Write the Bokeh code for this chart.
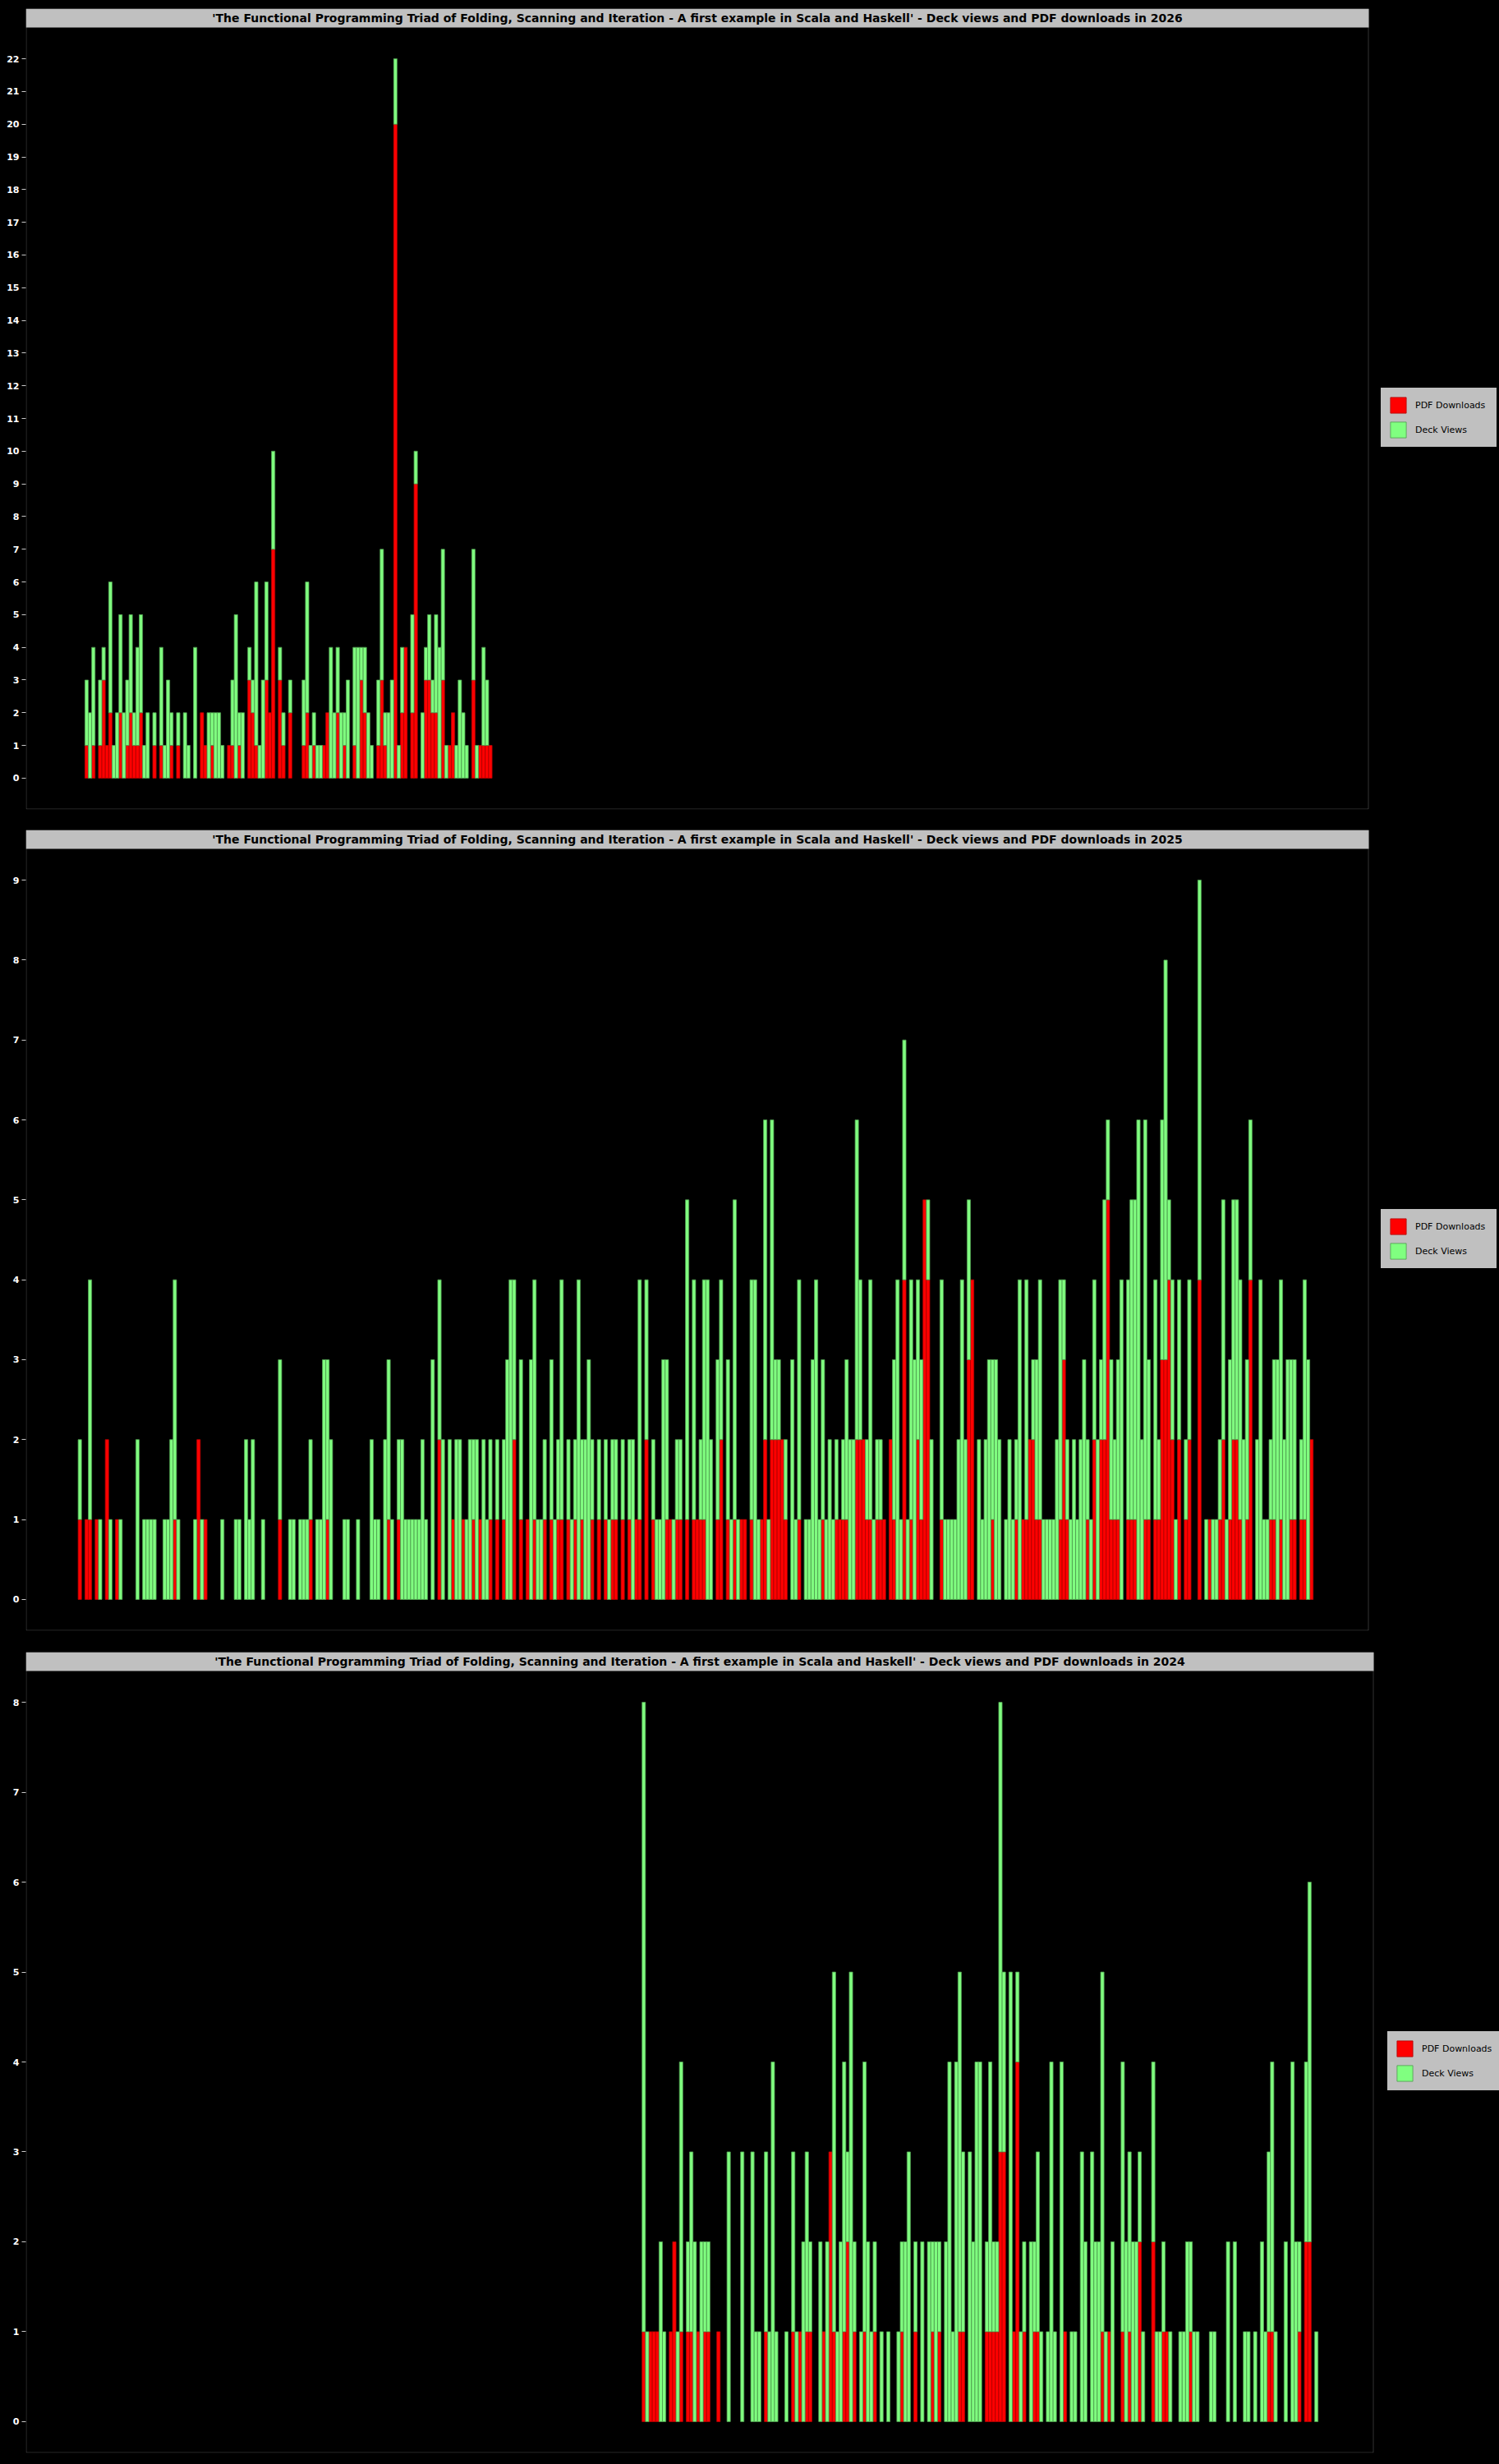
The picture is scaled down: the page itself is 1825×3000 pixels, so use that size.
from bokeh.plotting import figure
from bokeh.models import (Range1d, FixedTicker, ColumnDataSource, Legend,
                          LegendItem, BoxAnnotation, Label)
from bokeh.layouts import column
from bokeh.embed import file_html
from bokeh.resources import INLINE

TITLE = ("'The Functional Programming Triad of Folding, Scanning and Iteration - "
         "A first example in Scala and Haskell' - Deck views and PDF downloads in {}")
series_labels = ["PDF Downloads", "Deck Views"]

# ---------------- 2026 (day-of-year of first value, then one value per day)
start_2026 = 2
downloads_2026 = [
    1, 0, 1, 0, 1, 3, 1, 2, 0, 0, 2, 0, 1, 2, 1, 1, 2, 0, 0, 0,
    1, 0, 1, 0, 0, 1, 0, 1, 0, 0, 0, 0, 0, 0, 2, 1, 0, 1, 0, 0,
    0, 0, 1, 1, 0, 1, 0, 0, 3, 2, 1, 0, 0, 3, 2, 7, 0, 3, 1, 0,
    2, 0, 0, 0, 1, 2, 0, 1, 0, 0, 1, 2, 0, 0, 2, 0, 1, 0, 0, 1,
    0, 3, 2, 0, 0, 0, 1, 3, 1, 0, 0, 20, 0, 2, 4, 0, 2, 9, 0, 0,
    3, 3, 2, 2, 0, 3, 0, 1, 2, 0, 0, 0, 0, 0, 3, 0, 1, 1, 1, 1]
views_2026 = [
    2, 2, 3, 0, 2, 1, 0, 4, 1, 2, 3, 2, 2, 3, 1, 3, 3, 1, 2, 0,
    1, 0, 3, 1, 3, 1, 0, 1, 0, 2, 1, 0, 4, 0, 0, 0, 2, 1, 2, 2,
    1, 0, 0, 2, 5, 1, 2, 0, 1, 1, 5, 1, 3, 3, 0, 3, 0, 1, 1, 0,
    1, 0, 0, 0, 2, 4, 1, 1, 1, 1, 0, 0, 4, 2, 2, 2, 1, 3, 0, 3,
    4, 1, 2, 2, 1, 0, 2, 4, 1, 2, 3, 2, 1, 2, 0, 0, 3, 1, 0, 2,
    1, 2, 1, 3, 4, 4, 1, 0, 0, 1, 3, 2, 1, 0, 4, 1, 0, 3, 2, 0]

# ---------------- 2025
start_2025 = 0
downloads_2025 = [
    1, 0, 1, 1, 0, 1, 0, 0, 2, 0, 0, 1, 0, 0, 0, 0, 0, 0, 0, 0,
    0, 0, 0, 0, 0, 0, 0, 0, 1, 0, 0, 0, 0, 0, 0, 2, 0, 1, 0, 0,
    0, 0, 0, 0, 0, 0, 0, 0, 0, 0, 0, 0, 0, 0, 0, 0, 0, 0, 0, 1,
    0, 0, 0, 0, 0, 0, 0, 0, 1, 0, 0, 0, 0, 1, 0, 0, 0, 0, 0, 0,
    0, 0, 0, 0, 0, 0, 0, 0, 0, 0, 0, 1, 0, 0, 1, 0, 0, 0, 0, 0,
    0, 0, 0, 0, 0, 0, 2, 0, 0, 0, 1, 0, 0, 1, 0, 0, 1, 0, 1, 0,
    0, 1, 0, 1, 0, 1, 0, 0, 2, 0, 1, 0, 1, 0, 1, 0, 0, 1, 0, 1,
    0, 1, 1, 0, 1, 0, 1, 0, 1, 0, 0, 1, 0, 1, 0, 1, 0, 1, 1, 0,
    1, 0, 1, 0, 1, 1, 0, 2, 0, 1, 0, 0, 0, 1, 1, 0, 1, 1, 0, 1,
    0, 1, 1, 1, 1, 0, 0, 0, 1, 2, 0, 1, 0, 1, 0, 1, 1, 0, 1, 0,
    0, 1, 2, 0, 2, 2, 2, 2, 1, 0, 0, 0, 1, 0, 0, 0, 0, 0, 0, 1,
    0, 0, 0, 1, 1, 1, 1, 0, 0, 2, 2, 2, 1, 1, 0, 1, 1, 1, 0, 2,
    1, 0, 0, 4, 0, 1, 0, 2, 1, 5, 4, 0, 0, 0, 1, 0, 0, 0, 0, 0,
    0, 0, 3, 4, 0, 0, 0, 0, 0, 1, 0, 0, 0, 0, 0, 0, 1, 0, 1, 1,
    2, 2, 1, 1, 0, 0, 0, 0, 0, 1, 3, 1, 0, 0, 0, 0, 0, 1, 0, 2,
    0, 2, 2, 5, 1, 1, 1, 0, 0, 1, 1, 1, 0, 0, 1, 1, 0, 1, 1, 3,
    3, 4, 2, 0, 2, 0, 1, 2, 0, 0, 4, 0, 0, 1, 0, 0, 1, 2, 0, 1,
    2, 2, 1, 0, 1, 4, 0, 0, 0, 0, 0, 1, 1, 0, 1, 0, 0, 1, 1, 0,
    1, 1, 0, 2, 0]
views_2025 = [
    1, 0, 0, 3, 0, 0, 1, 0, 0, 1, 0, 0, 1, 0, 0, 0, 0, 2, 0, 1,
    1, 1, 1, 0, 0, 1, 1, 2, 3, 1, 0, 0, 0, 0, 1, 0, 1, 0, 0, 0,
    0, 0, 1, 0, 0, 0, 1, 1, 0, 2, 1, 2, 0, 0, 1, 0, 0, 0, 0, 2,
    0, 0, 1, 1, 0, 1, 1, 1, 1, 0, 1, 1, 3, 2, 2, 0, 0, 0, 1, 1,
    0, 0, 1, 0, 0, 0, 2, 1, 1, 0, 2, 2, 1, 0, 1, 2, 1, 1, 1, 1,
    1, 2, 1, 0, 3, 0, 2, 2, 0, 2, 0, 2, 2, 0, 1, 2, 1, 2, 0, 2,
    1, 1, 0, 1, 0, 1, 3, 4, 2, 0, 2, 0, 0, 3, 3, 1, 1, 1, 0, 2,
    1, 1, 3, 0, 1, 1, 1, 4, 1, 2, 3, 1, 0, 1, 0, 1, 1, 1, 1, 0,
    1, 0, 1, 2, 0, 3, 0, 2, 0, 1, 1, 1, 3, 2, 0, 1, 1, 1, 0, 4,
    0, 3, 0, 1, 3, 4, 2, 0, 2, 2, 0, 2, 1, 4, 1, 0, 0, 0, 3, 4,
    1, 0, 4, 1, 4, 1, 1, 0, 1, 0, 3, 1, 3, 0, 1, 1, 3, 4, 1, 2,
    1, 2, 1, 1, 0, 1, 2, 2, 2, 4, 2, 0, 1, 3, 1, 1, 1, 0, 0, 0,
    2, 4, 1, 3, 1, 3, 3, 2, 2, 0, 1, 2, 0, 0, 3, 1, 1, 1, 1, 2,
    4, 2, 2, 0, 0, 2, 1, 2, 3, 2, 3, 2, 0, 1, 2, 1, 1, 4, 0, 3,
    0, 1, 2, 3, 1, 1, 1, 1, 2, 3, 1, 1, 1, 2, 1, 2, 3, 1, 1, 2,
    2, 1, 3, 1, 2, 1, 2, 4, 0, 3, 4, 4, 6, 2, 5, 2, 0, 3, 1, 3,
    5, 1, 2, 1, 2, 0, 1, 2, 0, 0, 5, 0, 1, 0, 1, 1, 1, 3, 1, 2,
    3, 3, 3, 2, 2, 2, 0, 2, 4, 1, 1, 1, 2, 3, 3, 2, 3, 2, 2, 0,
    1, 3, 3, 0, 0]

# ---------------- 2024
start_2024 = 166
downloads_2024 = [
    1, 0, 1, 1, 1, 0, 0, 0, 1, 2, 0, 1, 0, 1, 1, 0, 1, 0, 1, 1,
    0, 0, 1, 0, 0, 0, 0, 0, 0, 0, 0, 0, 0, 0, 0, 0, 1, 0, 0, 0,
    0, 0, 0, 0, 1, 0, 1, 0, 1, 1, 0, 0, 0, 1, 0, 3, 1, 0, 0, 1,
    2, 0, 1, 0, 0, 1, 0, 0, 1, 0, 0, 0, 0, 0, 0, 0, 1, 0, 0, 0,
    1, 0, 0, 0, 0, 1, 0, 1, 0, 0, 0, 0, 0, 1, 1, 0, 0, 0, 0, 0,
    0, 1, 1, 1, 1, 3, 3, 0, 0, 1, 4, 0, 1, 0, 0, 1, 1, 0, 0, 0,
    0, 0, 0, 0, 1, 0, 0, 0, 0, 0, 0, 0, 0, 0, 0, 1, 0, 1, 0, 0,
    0, 1, 0, 1, 0, 0, 2, 0, 0, 0, 2, 0, 0, 1, 1, 0, 0, 0, 0, 0,
    0, 1, 0, 0, 0, 0, 0, 0, 0, 0, 0, 0, 0, 0, 0, 0, 0, 0, 0, 0,
    0, 0, 0, 0, 1, 1, 0, 0, 0, 0, 0, 0, 0, 1, 0, 2, 2, 0, 0]
views_2024 = [
    7, 1, 0, 0, 0, 2, 1, 0, 0, 0, 1, 3, 0, 1, 2, 2, 0, 2, 1, 1,
    0, 0, 0, 0, 0, 3, 0, 0, 0, 3, 0, 0, 3, 1, 1, 0, 2, 1, 4, 1,
    0, 0, 1, 0, 2, 1, 0, 2, 2, 1, 0, 0, 2, 0, 2, 0, 4, 1, 2, 3,
    1, 5, 1, 0, 1, 3, 2, 1, 1, 0, 1, 0, 1, 0, 0, 1, 1, 2, 3, 0,
    1, 0, 2, 0, 2, 1, 2, 1, 0, 2, 4, 1, 4, 4, 2, 0, 3, 2, 4, 4,
    0, 1, 3, 1, 1, 5, 2, 0, 5, 0, 1, 1, 1, 0, 2, 1, 2, 1, 0, 1,
    4, 1, 0, 4, 0, 0, 1, 1, 0, 3, 2, 0, 3, 2, 2, 4, 1, 0, 2, 0,
    0, 3, 2, 2, 2, 2, 1, 1, 0, 0, 2, 1, 1, 1, 0, 1, 0, 0, 1, 1,
    2, 1, 1, 1, 0, 0, 0, 1, 1, 0, 0, 0, 2, 0, 2, 0, 0, 1, 1, 0,
    1, 0, 2, 1, 2, 3, 1, 0, 0, 2, 0, 4, 2, 1, 0, 2, 4, 0, 1]

RED = "#ff0000"
GREEN = "#80ff80"
GREY = "#c0c0c0"
FONT = "DejaVu Sans"
FIG_W = 1825
LEFT_B = 31
DATA_H = 952
TITLE_H = 23


def make_panel(year, start, downloads, views, n_days, data_w, top_border,
               bottom_border, legend_gap):
    totals = [d + v for d, v in zip(downloads, views)]
    ymax = max(totals)
    pad = ymax * 0.0435
    y0 = -pad
    y_top = ymax + pad
    y1 = y0 + (y_top - y0) * (DATA_H + TITLE_H) / DATA_H
    xpad = 15.9
    x0, x1 = -xpad, n_days - 1 + xpad
    frame_w = FIG_W - LEFT_B
    x_ext = x0 + (x1 - x0) * frame_w / data_w
    ppd = data_w / (x1 - x0)            # pixels per day
    ppu = DATA_H / (y_top - y0)         # pixels per unit

    p = figure(width=FIG_W, height=top_border + DATA_H + TITLE_H + bottom_border,
               x_range=Range1d(x0, x_ext), y_range=Range1d(y0, y1),
               output_backend="svg", toolbar_location=None, title=None,
               x_axis_location=None, min_border_left=LEFT_B,
               min_border_right=0, min_border_top=top_border,
               min_border_bottom=bottom_border)
    p.background_fill_color = "black"
    p.border_fill_color = "black"
    p.outline_line_color = None
    p.xgrid.visible = False
    p.ygrid.visible = False

    ax = p.yaxis[0]
    ax.ticker = FixedTicker(ticks=list(range(0, ymax + 1)))
    ax.axis_line_color = None
    ax.major_tick_line_color = "#c8c8c8"
    ax.major_tick_in = 0
    ax.major_tick_out = 5
    ax.minor_tick_line_color = None
    ax.major_label_standoff = 3
    ax.major_label_text_color = "white"
    ax.major_label_text_font = FONT
    ax.major_label_text_font_style = "bold"
    ax.major_label_text_font_size = "11px"

    red_x, red_top = [], []
    grn_x, grn_bot, grn_top = [], [], []
    for i, (d, v) in enumerate(zip(downloads, views)):
        day = start + i
        if d > 0:
            red_x.append(day)
            red_top.append(d)
        if v > 0:
            grn_x.append(day)
            grn_bot.append(d)
            grn_top.append(d + v)

    r_red = p.vbar(x="x", top="top", bottom=0, width=1.0,
                   source=ColumnDataSource(dict(x=red_x, top=red_top)),
                   fill_color=RED, line_color="#b00000", line_width=0.8)
    r_grn = p.vbar(x="x", top="top", bottom="bottom", width=1.0,
                   source=ColumnDataSource(dict(x=grn_x, bottom=grn_bot, top=grn_top)),
                   fill_color=GREEN, line_color="#4f9a4f", line_width=0.8)

    # title bar
    p.add_layout(BoxAnnotation(left=x0, right=x1, bottom=y_top, top=y1,
                               fill_color=GREY, fill_alpha=1.0,
                               line_color=None, level="overlay"))
    p.add_layout(Label(x=(x0 + x1) / 2, y=(y_top + y1) / 2,
                       text=TITLE.format(year), text_align="center",
                       text_baseline="middle", text_font=FONT,
                       text_font_style="bold", text_font_size="14px",
                       text_color="black", level="overlay"))
    # outline of the plotting area
    p.add_layout(BoxAnnotation(left=x0 + 0.5 / ppd, right=x1 - 0.5 / ppd,
                               bottom=y0 + 0.5 / ppu, top=y1 - 0.5 / ppu,
                               fill_alpha=0.0, line_color="#a8a8a8",
                               line_width=1, level="overlay"))

    legend = Legend(items=[LegendItem(label=series_labels[0], renderers=[r_red]),
                           LegendItem(label=series_labels[1], renderers=[r_grn])],
                    location=(data_w + legend_gap, 441), margin=0, padding=8,
                    spacing=6, glyph_width=24, glyph_height=24,
                    label_height=24, label_width=90, label_standoff=9,
                    label_text_font=FONT, label_text_font_size="11px",
                    label_text_color="black", background_fill_color=GREY,
                    background_fill_alpha=1.0, border_line_color=GREY,
                    border_line_width=1)
    p.add_layout(legend)
    return p


p1 = make_panel(2026, start_2026, downloads_2026, views_2026, 365, 1635, 10, 24, 15)
p2 = make_panel(2025, start_2025, downloads_2025, views_2025, 365, 1635, 1, 25, 15)
p3 = make_panel(2024, start_2024, downloads_2024, views_2024, 366, 1641, 1, 14, 17)

page = column(p1, p2, p3, spacing=0, styles={"background-color": "black"})

html = file_html(page, INLINE)
html = html.replace("<head>", "<head><style>html,body{background:#000000;}</style>", 1)
open("out.html", "w").write(html)
